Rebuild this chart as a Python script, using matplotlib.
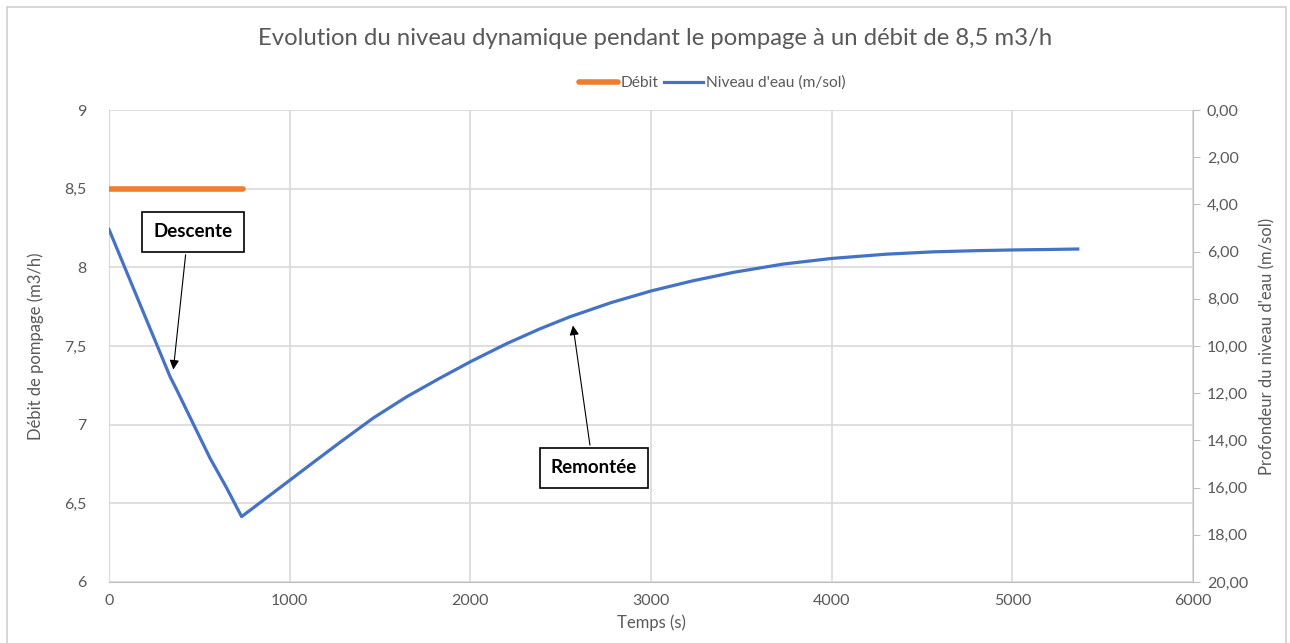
import matplotlib.pyplot as plt
from matplotlib.ticker import FuncFormatter
from matplotlib.patches import Rectangle
from matplotlib.lines import Line2D

plt.rcParams['font.family'] = ['Lato', 'DejaVu Sans']

# data
debit_t = [0, 740]
debit_q = [8.5, 8.5]

temps = [0, 170, 338, 375, 460, 559, 650, 734, 850, 1002, 1140, 1279, 1463,
         1648, 1832, 2002, 2201, 2386, 2552, 2780, 3004, 3230, 3456, 3730, 4000,
         4300, 4563, 4800, 5002, 5200, 5362]
niveau = [5.06, 8.20, 11.30, 11.86, 13.20, 14.75, 16.00, 17.23, 16.56,
          15.68, 14.88, 14.08, 13.05, 12.15, 11.36, 10.66, 9.90, 9.27, 8.76,
          8.16, 7.66, 7.24, 6.88, 6.53, 6.29, 6.11, 6.01, 5.96, 5.93, 5.91, 5.89]

grey = '#595959'
gridc = '#d9d9d9'

fig = plt.figure(figsize=(12.9, 6.43), dpi=100)
fig.patches.append(Rectangle((0.0055, -0.01), 0.9915, 0.9995, transform=fig.transFigure,
                             fill=False, edgecolor='#d0d0d0', lw=1.2))

ax = fig.add_axes([0.0845, 0.0949, 0.8403, 0.734])
ax2 = ax.twinx()

ax.plot(debit_t, debit_q, color='#ed7d31', lw=4, solid_capstyle='round', zorder=3)
ax2.plot(temps, niveau, color='#4472c4', lw=2.3, zorder=3)

ax.set_xlim(0, 6000)
ax.set_ylim(6, 9)
ax2.set_ylim(20, 0)
ax.set_xticks(range(0, 6001, 1000))
ax.set_yticks([6, 6.5, 7, 7.5, 8, 8.5, 9])
ax2.set_yticks(range(0, 21, 2))
ax.yaxis.set_major_formatter(FuncFormatter(lambda v, p: f'{v:g}'.replace('.', ',')))
ax2.yaxis.set_major_formatter(FuncFormatter(lambda v, p: f'{v:.2f}'.replace('.', ',')))

ax.grid(True, color=gridc, lw=1.2)
ax.set_axisbelow(True)
for a in (ax, ax2):
    for s in a.spines.values():
        s.set_visible(False)
ax.spines['left'].set_visible(True)
ax.spines['left'].set_color(gridc)
ax.spines['bottom'].set_visible(True)
ax.spines['bottom'].set_color('#bfbfbf')
ax2.spines['right'].set_visible(True)
ax2.spines['right'].set_color('#bfbfbf')

ax.tick_params(axis='y', length=0, pad=16, labelsize=11.5, labelcolor=grey)
ax.tick_params(axis='x', length=0, pad=9, labelsize=11.5, labelcolor=grey)
ax2.tick_params(axis='y', length=5, color='#bfbfbf', pad=5, labelsize=11.5, labelcolor=grey)

ax.set_xlabel('Temps (s)', fontsize=12, color=grey, labelpad=4)
ax.set_ylabel('Débit de pompage (m3/h)', fontsize=12, color=grey, labelpad=15)
ax2.set_ylabel("Profondeur du niveau d'eau (m/sol)", fontsize=12, color=grey, labelpad=8)

fig.text(0.5078, 0.94, 'Evolution du niveau dynamique pendant le pompage à un débit de 8,5 m3/h',
         ha='center', va='center', fontsize=17.2, color=grey)

handles = [Line2D([], [], color='#ed7d31', lw=4, solid_capstyle='round'),
           Line2D([], [], color='#4472c4', lw=2.3)]
fig.legend(handles, ['Débit', "Niveau d'eau (m/sol)"], loc='center', bbox_to_anchor=(0.552, 0.871),
           ncol=2, frameon=False, fontsize=11.2, labelcolor=grey, handlelength=2.5,
           handletextpad=0.15, columnspacing=0.4)

box = dict(boxstyle='square,pad=0.6', fc='white', ec='black', lw=1.2)
arrow = dict(arrowstyle='-|>', color='black', lw=0.8, mutation_scale=14, shrinkA=0, shrinkB=0)
ax.annotate('', xy=(356, 7.35), xytext=(424, 8.08), arrowprops=arrow, zorder=5)
ax.text(465, 8.225, 'Descente', ha='center', va='center', fontsize=13.5, fontweight='bold',
        bbox=box, zorder=6)
ax.annotate('', xy=(2568, 7.63), xytext=(2662, 6.87), arrowprops=arrow, zorder=5)
ax.text(2685, 6.725, 'Remontée', ha='center', va='center', fontsize=13.5, fontweight='bold',
        bbox=box, zorder=6)

fig.savefig('out.png', dpi=100)
